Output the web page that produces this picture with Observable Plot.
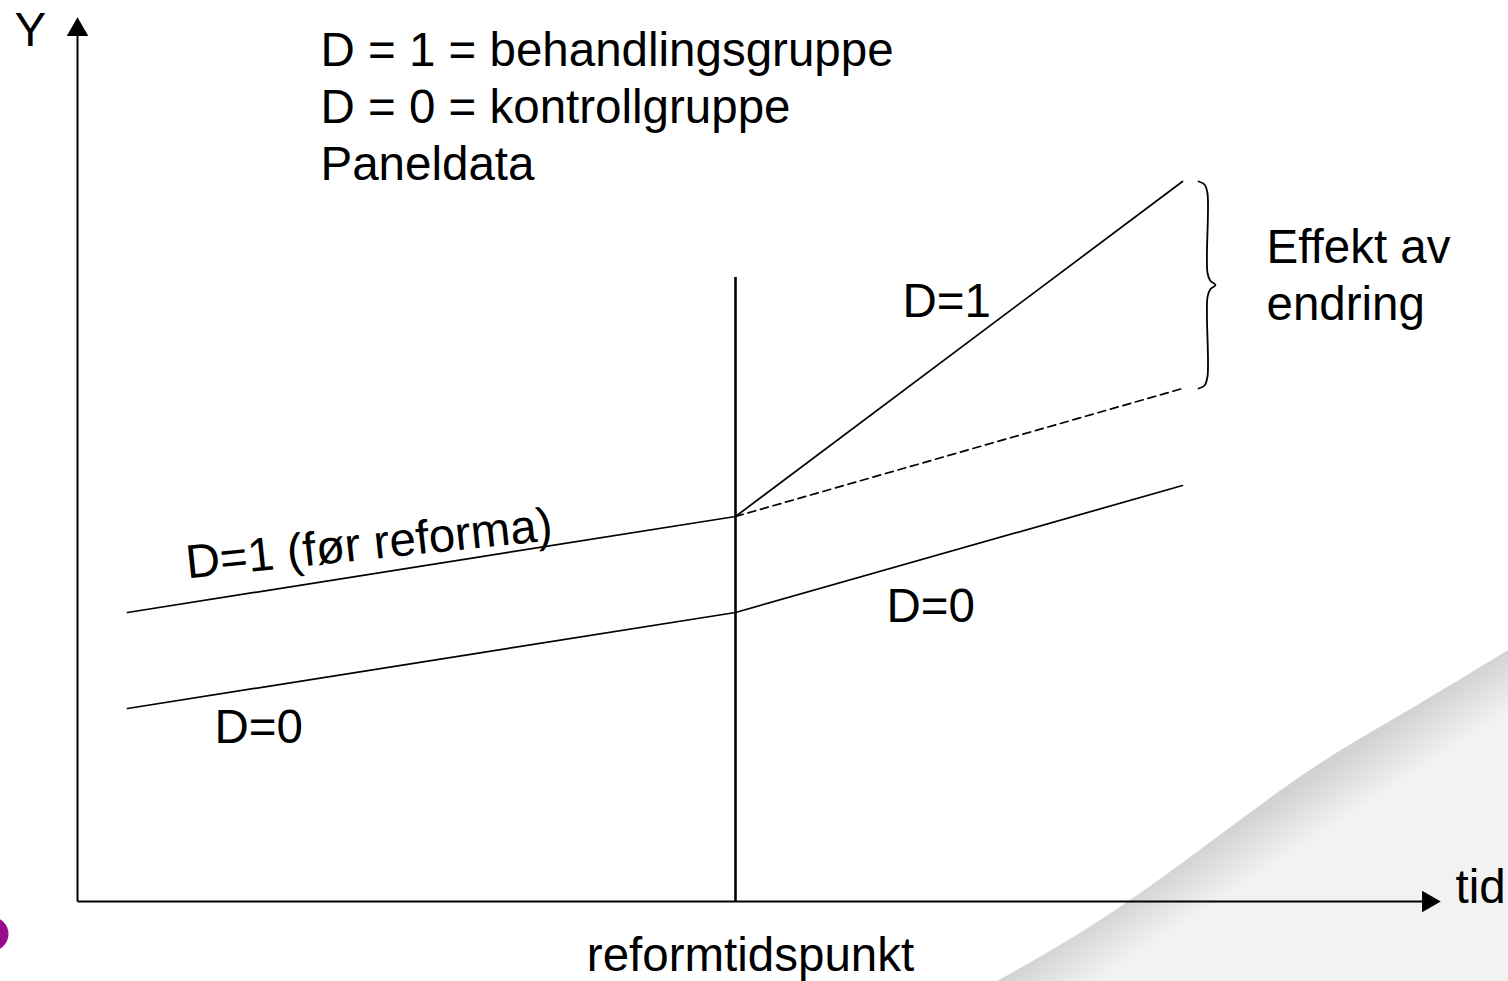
<!DOCTYPE html>
<html>
<head>
<meta charset="utf-8">
<script src="https://cdn.jsdelivr.net/npm/d3@7"></script>
<script src="https://cdn.jsdelivr.net/npm/@observablehq/plot@0.6"></script>
<style>
  html, body { margin: 0; padding: 0; background: #fff; overflow: hidden; }
  #chart svg { display: block; }
</style>
</head>
<body>
<div id="chart"></div>
<script>
// ---- Data (time in arbitrary units, Y in arbitrary units) ----
const times = [0.5, 6.58, 11.05];          // start, reform, end
const treated = [2.89, 3.85, 7.20];        // D = 1
const control = [1.93, 2.89, 4.16];        // D = 0
const counterfactualTimes = [6.58, 11.05];
const counterfactual = [3.85, 5.13];       // D = 1 without reform (dashed)
const reformTime = 6.58;
const reformLineTop = 6.24;
const xMax = 13.58;                         // end of time axis (arrow tip)
const yMax = 8.81;                          // end of Y axis (arrow tip)

const legendLines = ["D = 1 = behandlingsgruppe", "D = 0 = kontrollgruppe", "Paneldata"];

// background swoosh (slide decoration)
const swooshX = [9.20, 10.53, 12.11, 13.23, 14.31];
const swooshY = [-0.80, 0.01, 1.16, 1.86, 2.51];

// ---- derived tables ----
const treatedData = times.map((t, i) => ({t, y: treated[i]}));
const controlData = times.map((t, i) => ({t, y: control[i]}));
const cfData = counterfactualTimes.map((t, i) => ({t, y: counterfactual[i]}));
const swoosh = swooshX.map((x, i) => ({x, y: swooshY[i]}));

// brace between treated end and counterfactual end
const bTop = treated[2], bBot = counterfactual[1], bMid = (bTop + bBot) / 2;
const bx0 = times[2] + 0.16, bxs = bx0 + 0.09, bxt = bx0 + 0.17;
const brace = [
  [bx0, bTop], [bx0 + 0.06, bTop - 0.03], [bxs, bTop - 0.12],
  [bxs, bMid + 0.12], [bxs + 0.03, bMid + 0.04], [bxt, bMid],
  [bxs + 0.03, bMid - 0.04], [bxs, bMid - 0.12],
  [bxs, bBot + 0.12], [bx0 + 0.06, bBot + 0.03], [bx0, bBot]
].map(([x, y]) => ({x, y}));

const font = "Arial, 'Liberation Sans', Helvetica, sans-serif";
const fs = 47.5;
const txt = (data, opts) => Plot.text(data, {fontSize: fs, fill: "black", lineAnchor: "bottom", ...opts});

const plot = Plot.plot({
  width: 1508,
  height: 981,
  marginLeft: 77,
  marginRight: 73,
  marginTop: 20,
  marginBottom: 80,
  x: {domain: [0, xMax], axis: null},
  y: {domain: [0, yMax], axis: null},
  style: {fontFamily: font, background: "white", overflow: "visible"},
  marks: [
    // slide decoration
    Plot.areaY(swoosh, {x: "x", y1: -0.9, y2: "y", fill: "url(#swooshGrad)", curve: "natural"}),
    Plot.dot([{x: -0.86, y: -0.325}], {x: "x", y: "y", r: 17, fill: "#990a8c"}),

    // axes
    Plot.link([{x1: 0, y1: 0, x2: xMax - 0.1, y2: 0}], {x1: "x1", y1: "y1", x2: "x2", y2: "y2", stroke: "black", strokeWidth: 2}),
    Plot.link([{x1: 0, y1: 0, x2: 0, y2: yMax - 0.1}], {x1: "x1", y1: "y1", x2: "x2", y2: "y2", stroke: "black", strokeWidth: 2}),
    Plot.dot([{x: 0, y: yMax - 0.092}], {x: "x", y: "y", symbol: "triangle", r: 8, fill: "black", stroke: "none"}),
    Plot.dot([{x: xMax - 0.072, y: 0}], {x: "x", y: "y", symbol: "triangle", r: 8, fill: "black", stroke: "none", rotate: 90}),

    // reform vertical line
    Plot.ruleX([reformTime], {y1: 0, y2: reformLineTop, stroke: "black", strokeWidth: 2.6}),

    // series
    Plot.line(treatedData, {x: "t", y: "y", stroke: "black", strokeWidth: 1.7}),
    Plot.line(controlData, {x: "t", y: "y", stroke: "black", strokeWidth: 1.7}),
    Plot.line(cfData, {x: "t", y: "y", stroke: "black", strokeWidth: 1.7, strokeDasharray: "8,5"}),

    // brace
    Plot.line(brace, {x: "x", y: "y", stroke: "black", strokeWidth: 1.8, curve: "catmull-rom"}),

    // texts
    txt(["Y"], {x: -0.63, y: 8.56, textAnchor: "start"}),
    txt([legendLines[0]], {x: 2.43, y: 8.36, textAnchor: "start"}),
    txt([legendLines[1]], {x: 2.43, y: 7.79, textAnchor: "start"}),
    txt([legendLines[2]], {x: 2.43, y: 7.22, textAnchor: "start"}),
    txt(["D=1"], {x: 8.25, y: 5.85, textAnchor: "start"}),
    txt(["Effekt av"], {x: 11.89, y: 6.39, textAnchor: "start"}),
    txt(["endring"], {x: 11.89, y: 5.82, textAnchor: "start"}),
    txt(["D=1 (før reforma)"], {x: 1.10, y: 3.23, textAnchor: "start", rotate: -6}),
    txt(["D=0"], {x: 8.09, y: 2.80, textAnchor: "start"}),
    txt(["D=0"], {x: 1.37, y: 1.59, textAnchor: "start"}),
    txt(["reformtidspunkt"], {x: 6.73, y: -0.69, textAnchor: "middle"}),
    txt(["tid"], {x: 13.78, y: -0.01, textAnchor: "start"})
  ]
});

// soft shadow gradient for the decorative swoosh
const svg = d3.select(plot);
const grad = svg.insert("defs", ":first-child")
  .append("linearGradient")
  .attr("id", "swooshGrad")
  .attr("gradientUnits", "userSpaceOnUse")
  .attr("x1", 1240).attr("y1", 822)
  .attr("x2", 1270).attr("y2", 868);
grad.append("stop").attr("offset", 0).attr("stop-color", "#d2d2d2");
grad.append("stop").attr("offset", 1).attr("stop-color", "#f2f2f2");

document.getElementById("chart").appendChild(plot);
</script>
</body>
</html>
